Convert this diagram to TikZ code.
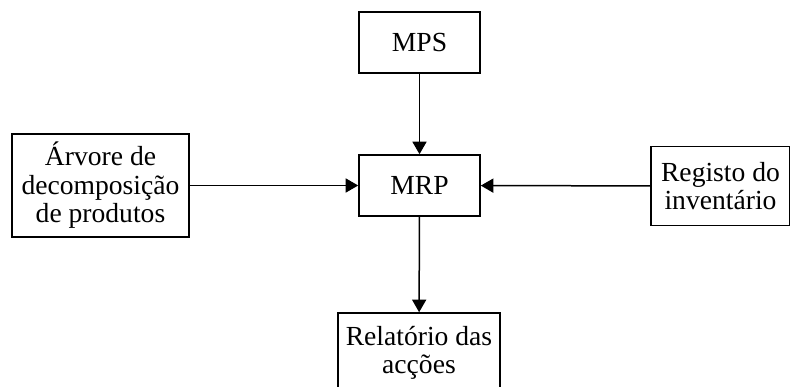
\documentclass[tikz,border=0pt]{standalone}
\usepackage{fontspec}
\setmainfont{Liberation Serif}
\usepackage{tikz}
\usetikzlibrary{arrows.meta,positioning,calc}

\begin{document}
\begin{tikzpicture}[x=1pt,y=-1pt,
        box/.style={draw,line width=1.6pt,inner sep=0pt,align=center,
            font=\fontsize{27.6}{28.5}\selectfont},
        flow/.style={line width=1.5pt,-{Triangle[length=12.5pt,width=14pt]}}]
        \useasboundingbox (0,0) rectangle (790,387);
        \node[box,minimum width=121pt,minimum height=61pt] (mps) at (419.5,42.5) {MPS};
        \node[box,minimum width=121pt,minimum height=61pt] (mrp) at (419.5,185.5) {MRP};
        \node[box,minimum width=177pt,minimum height=103pt] (tree) at (100.5,185.5) {Árvore de\\decomposição\\de produtos};
        \node[box,minimum width=139pt,minimum height=79pt] (inv) at (720.5,186) {Registo do\\inventário};
        \node[box,minimum width=162pt,minimum height=80pt] (rep) at (419,353) {Relatório das\\acções};
        \draw[flow] (mps) -- (mrp);
        \draw[flow] (tree) -- (mrp);
        \draw[flow] (inv) -- (mrp);
        \draw[flow] (mrp) -- (rep);
    \end{tikzpicture}
\end{document}
